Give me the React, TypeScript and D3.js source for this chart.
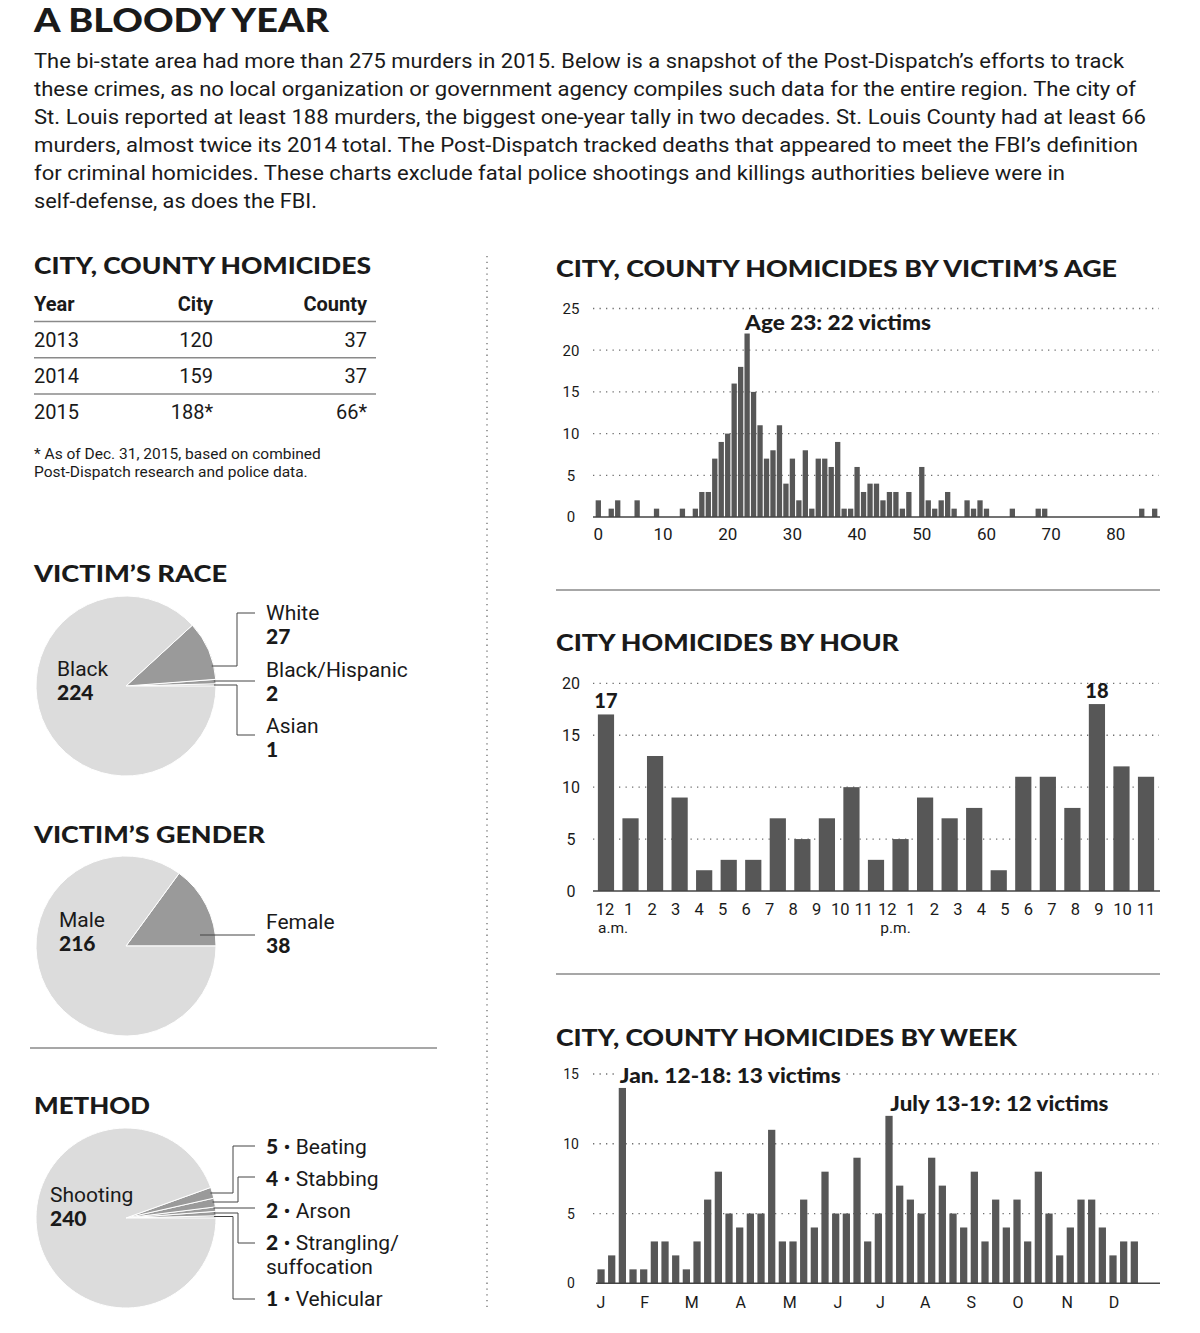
import * as d3 from "d3";

// ---- text ----
const TITLE = "A BLOODY YEAR";
const INTRO_LINES = [
  "The bi-state area had more than 275 murders in 2015. Below is a snapshot of the Post-Dispatch’s efforts to track",
  "these crimes, as no local organization or government agency compiles such data for the entire region. The city of",
  "St. Louis reported at least 188 murders, the biggest one-year tally in two decades. St. Louis County had at least 66",
  "murders, almost twice its 2014 total. The Post-Dispatch tracked deaths that appeared to meet the FBI’s definition",
  "for criminal homicides. These charts exclude fatal police shootings and killings authorities believe were in",
  "self-defense, as does the FBI.",
];
const INTRO_WIDTHS = [1090, 1102, 1112, 1104, 1031, 283];

// ---- table ----
const TABLE_HEAD = ["Year", "City", "County"];
const TABLE_YEARS = ["2013", "2014", "2015"];
const TABLE_CITY = ["120", "159", "188*"];
const TABLE_COUNTY = ["37", "37", "66*"];
const TABLE_NOTE = [
  "* As of Dec. 31, 2015, based on combined",
  "Post-Dispatch research and police data.",
];

// ---- pies (listed counter-clockwise from 3 o'clock) ----
const RACE_LABELS = ["Asian", "Black/Hispanic", "White", "Black"];
const RACE_VALUES = [1, 2, 27, 224];
const GENDER_LABELS = ["Female", "Male"];
const GENDER_VALUES = [38, 216];
const METHOD_LABELS = ["Vehicular", "Strangling/", "Arson", "Stabbing", "Beating", "Shooting"];
const METHOD_VALUES = [1, 2, 2, 4, 5, 240];

// ---- victim age, ages 0..86 ----
const AGE_VALUES = [
  2, 0, 1, 2, 0, 0, 2, 0, 0, 1,
  0, 0, 0, 1, 0, 1, 3, 3, 7, 9,
  10, 16, 18, 22, 15, 11, 7, 8, 11, 4,
  7, 2, 8, 1, 7, 7, 6, 9, 1, 1,
  6, 3, 4, 4, 2, 3, 3, 1, 3, 0,
  6, 2, 1, 2, 3, 1, 0, 2, 1, 2,
  1, 0, 0, 0, 1, 0, 0, 0, 1, 1,
  0, 0, 0, 0, 0, 0, 0, 0, 0, 0,
  0, 0, 0, 0, 1, 0, 1,
];
const AGE_TICKS = [0, 10, 20, 30, 40, 50, 60, 70, 80];
const AGE_Y_TICKS = [0, 5, 10, 15, 20, 25];

// ---- by hour ----
const HOUR_VALUES = [17, 7, 13, 9, 2, 3, 3, 7, 5, 7, 10, 3, 5, 9, 7, 8, 2, 11, 11, 8, 18, 12, 11];
const HOUR_LABELS = ["12", "1", "2", "3", "4", "5", "6", "7", "8", "9", "10", "11",
  "12", "1", "2", "3", "4", "5", "6", "7", "8", "9", "10", "11"];
const HOUR_Y_TICKS = [0, 5, 10, 15, 20];

// ---- by week ----
const WEEK_VALUES = [
  1, 2, 14, 1, 1, 3, 3, 2, 1, 3, 6, 8, 5, 4, 5, 5, 11, 3, 3, 6, 4, 8, 5, 5, 9, 3,
  5, 12, 7, 6, 5, 9, 7, 5, 4, 8, 3, 6, 4, 6, 3, 8, 5, 2, 4, 6, 6, 4, 2, 3, 3,
];
const WEEK_SLOTS = 53;
const MONTH_LABELS = ["J", "F", "M", "A", "M", "J", "J", "A", "S", "O", "N", "D"];
const MONTH_WEEKS = [0, 4.1, 8.5, 13.1, 17.7, 22.2, 26.2, 30.4, 34.7, 39.1, 43.7, 48.1];
const WEEK_Y_TICKS = [0, 5, 10, 15];

const BAR = "#575757";
const PIE_LIGHT = "#dcdcdc";
const PIE_DARK = "#9a9a9a";
const INK = "#1a1a1a";
const HEAD_FONT = "Lato, 'Open Sans', sans-serif";
const BODY_FONT = "Roboto, 'Noto Sans', sans-serif";

function Heading({ x, y, w, text }: { x: number; y: number; w: number; text: string }) {
  return (
    <text x={x} y={y} fontFamily={HEAD_FONT} fontWeight={900} fontSize={23} fill={INK}
      textLength={w} lengthAdjust="spacingAndGlyphs">
      {text}
    </text>
  );
}

interface Callout {
  label: string;
  value: number;
  startDy: number;
  startX?: number;
  elbow?: number;
  lineDy: number;
  textDy: number;
  inline?: boolean;
  extra?: string;
}

function Pie({ cx, cy, values, labels, main, mainX, mainDy, callouts }: {
  cx: number; cy: number; values: number[]; labels: string[];
  main: number; mainX: number; mainDy: number; callouts: Callout[];
}) {
  const r = 90;
  const pie = d3.pie<number>().sort(null).startAngle(Math.PI / 2).endAngle(Math.PI / 2 - 2 * Math.PI);
  const arcs = pie(values);
  const arc = d3.arc<d3.PieArcDatum<number>>().innerRadius(0).outerRadius(r);
  const endX = cx + 129;
  const textX = cx + 140;
  return (
    <g>
      {arcs.map((a, i) => (
        <path key={i} d={arc(a) ?? ""} transform={`translate(${cx},${cy})`}
          fill={i === main ? PIE_LIGHT : PIE_DARK} stroke="#fff" strokeWidth={1} />
      ))}
      <text x={mainX} y={cy + mainDy} fontFamily={BODY_FONT} fontSize={21} fill={INK}>{labels[main]}</text>
      <text x={mainX} y={cy + mainDy + 24} fontFamily={HEAD_FONT} fontWeight={900} fontSize={21} fill={INK}>
        {values[main]}
      </text>
      {callouts.map((c, i) => {
        const sx = c.startX ?? cx + Math.sqrt(r * r - c.startDy * c.startDy) - 2;
        const sy = cy + c.startDy;
        const ly = cy + c.lineDy;
        const pts: [number, number][] = c.elbow
          ? [[sx, sy], [c.elbow, sy], [c.elbow, ly], [endX, ly]]
          : [[sx, sy], [endX, sy]];
        return (
          <g key={i}>
            <path d={d3.line()(pts) ?? ""} fill="none" stroke="#444" strokeWidth={1} />
            {c.inline ? (
              <text x={textX} y={cy + c.textDy} fontFamily={BODY_FONT} fontSize={21} fill={INK}>
                <tspan fontFamily={HEAD_FONT} fontWeight={900}>{c.value}</tspan>
                <tspan> • {c.label}</tspan>
              </text>
            ) : (
              <>
                <text x={textX} y={cy + c.textDy} fontFamily={BODY_FONT} fontSize={21} fill={INK}>{c.label}</text>
                <text x={textX} y={cy + c.textDy + 24} fontFamily={HEAD_FONT} fontWeight={900}
                  fontSize={21} fill={INK}>{c.value}</text>
              </>
            )}
            {c.extra && (
              <text x={textX} y={cy + c.textDy + 24} fontFamily={BODY_FONT} fontSize={21} fill={INK}>{c.extra}</text>
            )}
          </g>
        );
      })}
    </g>
  );
}

function Grid({ ticks, y, x0, x1 }: { ticks: number[]; y: d3.ScaleLinear<number, number>; x0: number; x1: number }) {
  return (
    <g>
      {ticks.filter((t) => t > 0).map((t) => (
        <line key={t} x1={x0} x2={x1} y1={y(t)} y2={y(t)} stroke="#6f6f6f" strokeWidth={1.3}
          strokeDasharray="1.3 5.2" />
      ))}
    </g>
  );
}

function YLabels({ ticks, y, size }: { ticks: number[]; y: d3.ScaleLinear<number, number>; size: number }) {
  return (
    <g>
      {ticks.map((t) => (
        <text key={t} x={571} y={y(t) + size * 0.36} textAnchor="middle" fontFamily={BODY_FONT}
          fontSize={size} fill={INK}>{t}</text>
      ))}
    </g>
  );
}

export default function App() {
  const W = 1200;
  const H = 1333;
  const plotL = 593;
  const plotR = 1159;

  // age chart
  const ageX = d3.scaleBand<number>().domain(d3.range(AGE_VALUES.length)).range([594.5, 1158.5]).padding(0.18);
  const ageY = d3.scaleLinear().domain([0, 25]).range([517, 308.5]);
  const ageMid = (a: number) => (ageX(a) ?? 0) + ageX.bandwidth() / 2;

  // hour chart
  const hourX = d3.scaleBand<number>().domain(d3.range(HOUR_VALUES.length)).range([593.7, 1158.3])
    .paddingInner(0.34).paddingOuter(0.17);
  const hourY = d3.scaleLinear().domain([0, 20]).range([891, 683.3]);
  const hourLab = d3.scalePoint<number>().domain(d3.range(HOUR_LABELS.length)).range([605, 1146]);
  const hourMid = (i: number) => (hourX(i) ?? 0) + hourX.bandwidth() / 2;
  const hourPeaks = [0, HOUR_VALUES.indexOf(d3.max(HOUR_VALUES) as number)];

  // week chart
  const weekX = d3.scaleBand<number>().domain(d3.range(WEEK_SLOTS)).range([595.7, 1161])
    .paddingInner(0.32).paddingOuter(0.16);
  const weekY = d3.scaleLinear().domain([0, 15]).range([1283.3, 1074]);
  const weekMid = d3.scaleLinear().domain([0, WEEK_SLOTS - 1])
    .range([(weekX(0) ?? 0) + weekX.bandwidth() / 2, (weekX(WEEK_SLOTS - 1) ?? 0) + weekX.bandwidth() / 2]);

  const ageTop = ageY(AGE_VALUES[23]);
  const janTop = weekY(WEEK_VALUES[2]);
  const julTop = weekY(WEEK_VALUES[27]);

  return (
    <svg width={W} height={H} viewBox={`0 0 ${W} ${H}`}
      style={{ position: "absolute", left: 0, top: 0, background: "#fff" }}>
      <rect width={W} height={H} fill="#fff" />

      {/* header */}
      <text x={34} y={32} fontFamily={HEAD_FONT} fontWeight={900} fontSize={33} fill={INK}
        textLength={295} lengthAdjust="spacingAndGlyphs">{TITLE}</text>
      {INTRO_LINES.map((l, i) => (
        <text key={i} x={34} y={68 + i * 28} fontFamily={BODY_FONT} fontSize={20.5} fill={INK}
          textLength={INTRO_WIDTHS[i]} lengthAdjust="spacingAndGlyphs">{l}</text>
      ))}

      {/* column divider */}
      <line x1={487} x2={487} y1={256} y2={1308} stroke="#6f6f6f" strokeWidth={1.3} strokeDasharray="1.3 4.5" />

      {/* table */}
      <Heading x={34} y={274} w={337} text="CITY, COUNTY HOMICIDES" />
      <text x={34} y={311} fontFamily={BODY_FONT} fontWeight={700} fontSize={20} fill={INK}>{TABLE_HEAD[0]}</text>
      <text x={213} y={311} textAnchor="end" fontFamily={BODY_FONT} fontWeight={700} fontSize={20} fill={INK}>{TABLE_HEAD[1]}</text>
      <text x={367} y={311} textAnchor="end" fontFamily={BODY_FONT} fontWeight={700} fontSize={20} fill={INK}>{TABLE_HEAD[2]}</text>
      {TABLE_YEARS.map((yr, i) => (
        <g key={yr}>
          <line x1={34} x2={376} y1={321.5 + i * 36.3} y2={321.5 + i * 36.3} stroke="#8a8a8a" strokeWidth={1.5} />
          <text x={34} y={347 + i * 36} fontFamily={BODY_FONT} fontSize={20} fill={INK}>{yr}</text>
          <text x={213} y={347 + i * 36} textAnchor="end"
            fontFamily={BODY_FONT} fontSize={20} fill={INK}>{TABLE_CITY[i]}</text>
          <text x={367} y={347 + i * 36} textAnchor="end"
            fontFamily={BODY_FONT} fontSize={20} fill={INK}>{TABLE_COUNTY[i]}</text>
        </g>
      ))}
      {TABLE_NOTE.map((l, i) => (
        <text key={i} x={34} y={459 + i * 18} fontFamily={BODY_FONT} fontSize={15.5} fill={INK}>{l}</text>
      ))}

      {/* race */}
      <Heading x={34} y={582} w={193} text="VICTIM’S RACE" />
      <Pie cx={126} cy={686} values={RACE_VALUES} labels={RACE_LABELS} main={3} mainX={57} mainDy={-10}
        callouts={[
          { label: RACE_LABELS[2], value: RACE_VALUES[2], startDy: -20, elbow: 237, lineDy: -73, textDy: -66 },
          { label: RACE_LABELS[1], value: RACE_VALUES[1], startDy: -5, lineDy: -5, textDy: -9 },
          { label: RACE_LABELS[0], value: RACE_VALUES[0], startDy: -1, elbow: 237, lineDy: 49, textDy: 47 },
        ]} />

      {/* gender */}
      <Heading x={34} y={843} w={231} text="VICTIM’S GENDER" />
      <Pie cx={126} cy={946} values={GENDER_VALUES} labels={GENDER_LABELS} main={1} mainX={59} mainDy={-19}
        callouts={[
          { label: GENDER_LABELS[0], value: GENDER_VALUES[0], startDy: -11, startX: 200, lineDy: -11, textDy: -17 },
        ]} />
      <line x1={30} x2={437} y1={1048} y2={1048} stroke="#8a8a8a" strokeWidth={1.3} />

      {/* method */}
      <Heading x={34} y={1114} w={116} text="METHOD" />
      <Pie cx={126} cy={1218} values={METHOD_VALUES} labels={METHOD_LABELS} main={5} mainX={50} mainDy={-16}
        callouts={[
          { label: METHOD_LABELS[4], value: METHOD_VALUES[4], startDy: -25, elbow: 233, lineDy: -72, textDy: -64, inline: true },
          { label: METHOD_LABELS[3], value: METHOD_VALUES[3], startDy: -16, elbow: 238, lineDy: -41, textDy: -32, inline: true },
          { label: METHOD_LABELS[2], value: METHOD_VALUES[2], startDy: -10, lineDy: -10, textDy: 0, inline: true },
          { label: METHOD_LABELS[1], value: METHOD_VALUES[1], startDy: -5, elbow: 238, lineDy: 25, textDy: 32, inline: true, extra: "suffocation" },
          { label: METHOD_LABELS[0], value: METHOD_VALUES[0], startDy: -1.5, elbow: 233, lineDy: 81, textDy: 88, inline: true },
        ]} />

      {/* ---- age chart ---- */}
      <Heading x={556} y={277} w={561} text="CITY, COUNTY HOMICIDES BY VICTIM’S AGE" />
      <Grid ticks={AGE_Y_TICKS} y={ageY} x0={plotL} x1={plotR} />
      {AGE_VALUES.map((v, i) => v > 0 && (
        <rect key={i} x={ageX(i)} y={ageY(v)} width={ageX.bandwidth()} height={ageY(0) - ageY(v)} fill={BAR} />
      ))}
      <line x1={plotL} x2={plotR + 1} y1={ageY(0)} y2={ageY(0)} stroke="#444" strokeWidth={1.6} />
      <YLabels ticks={AGE_Y_TICKS} y={ageY} size={15} />
      {AGE_TICKS.map((a) => (
        <text key={a} x={ageMid(a)} y={540} textAnchor="middle" fontFamily={BODY_FONT} fontSize={17} fill={INK}>{a}</text>
      ))}
      <text x={ageMid(23) - 2} y={ageTop - 4} fontFamily={HEAD_FONT} fontWeight={900} fontSize={21} fill={INK}
        textLength={186} lengthAdjust="spacingAndGlyphs">Age 23: 22 victims</text>

      <line x1={556} x2={1160} y1={590} y2={590} stroke="#8a8a8a" strokeWidth={1.3} />

      {/* ---- hour chart ---- */}
      <Heading x={556} y={651} w={343} text="CITY HOMICIDES BY HOUR" />
      <Grid ticks={HOUR_Y_TICKS} y={hourY} x0={plotL} x1={plotR} />
      {HOUR_VALUES.map((v, i) => (
        <rect key={i} x={hourX(i)} y={hourY(v)} width={hourX.bandwidth()} height={hourY(0) - hourY(v)} fill={BAR} />
      ))}
      <line x1={plotL} x2={plotR + 1} y1={hourY(0)} y2={hourY(0)} stroke="#444" strokeWidth={1.6} />
      <YLabels ticks={HOUR_Y_TICKS} y={hourY} size={16} />
      {HOUR_LABELS.map((l, i) => (
        <text key={i} x={hourLab(i)} y={915} textAnchor="middle" fontFamily={BODY_FONT} fontSize={16.5} fill={INK}>{l}</text>
      ))}
      <text x={(hourLab(0) ?? 0) - 7} y={933} fontFamily={BODY_FONT} fontSize={15.5} fill={INK}>a.m.</text>
      <text x={(hourLab(12) ?? 0) - 7} y={933} fontFamily={BODY_FONT} fontSize={15.5} fill={INK}>p.m.</text>
      {hourPeaks.map((i) => (
        <text key={i} x={hourMid(i)} y={hourY(HOUR_VALUES[i]) - 6} textAnchor="middle" fontFamily={HEAD_FONT}
          fontWeight={900} fontSize={20} fill={INK}>{HOUR_VALUES[i]}</text>
      ))}

      <line x1={556} x2={1160} y1={974} y2={974} stroke="#8a8a8a" strokeWidth={1.3} />

      {/* ---- week chart ---- */}
      <Heading x={556} y={1046} w={461} text="CITY, COUNTY HOMICIDES BY WEEK" />
      <Grid ticks={WEEK_Y_TICKS} y={weekY} x0={plotL} x1={plotR} />
      {WEEK_VALUES.map((v, i) => (
        <rect key={i} x={weekX(i)} y={weekY(v)} width={weekX.bandwidth()} height={weekY(0) - weekY(v)} fill={BAR} />
      ))}
      <line x1={plotL + 3} x2={plotR + 1} y1={weekY(0)} y2={weekY(0)} stroke="#444" strokeWidth={1.6} />
      <YLabels ticks={WEEK_Y_TICKS} y={weekY} size={14} />
      {MONTH_LABELS.map((m, i) => (
        <text key={i} x={weekMid(MONTH_WEEKS[i])} y={1308} textAnchor="middle" fontFamily={BODY_FONT}
          fontSize={16} fill={INK}>{m}</text>
      ))}
      <rect x={(weekX(2) ?? 0) - 4} y={janTop - 24} width={230} height={20} fill="#fff" />
      <text x={(weekX(2) ?? 0) + 1} y={janTop - 5} fontFamily={HEAD_FONT} fontWeight={900} fontSize={21} fill={INK}
        textLength={221} lengthAdjust="spacingAndGlyphs">Jan. 12-18: 13 victims</text>
      <text x={(weekX(27) ?? 0) + 5} y={julTop - 5} fontFamily={HEAD_FONT} fontWeight={900} fontSize={21} fill={INK}
        textLength={218} lengthAdjust="spacingAndGlyphs">July 13-19: 12 victims</text>
    </svg>
  );
}
